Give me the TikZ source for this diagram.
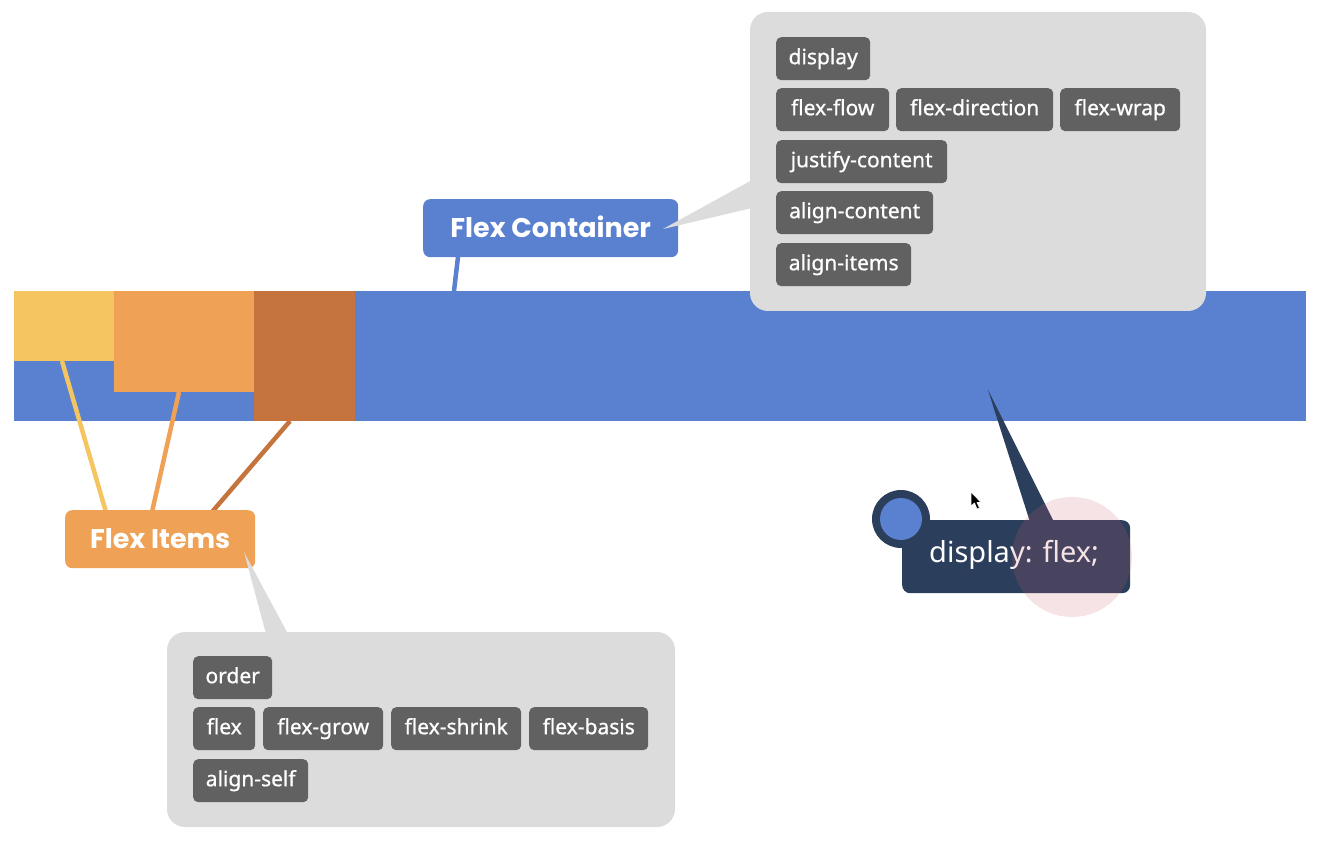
\documentclass[tikz,border=0pt]{standalone}
\usepackage{fontspec}
\setmainfont{Noto Sans}
\newfontfamily\tagfont{Noto Sans}[FakeBold=0.8]
\newfontfamily\headfont{Poppins}
\definecolor{barblue}{RGB}{90,128,208}
\definecolor{itemyellow}{RGB}{244,197,96}
\definecolor{itemorange}{RGB}{239,162,85}
\definecolor{itembrown}{RGB}{196,116,60}
\definecolor{navy}{RGB}{43,62,91}
\definecolor{taggray}{RGB}{97,97,97}
\definecolor{panelgray}{RGB}{220,220,220}
\definecolor{clickpink}{RGB}{205,100,115}
\tikzset{
  block/.style={anchor=north west, inner sep=0pt, outer sep=0pt, minimum height=#1},
  panel/.style={anchor=north west, fill=panelgray, rounded corners=18pt, inner sep=0pt, outer sep=0pt},
  tag/.style={anchor=north west, fill=taggray, rounded corners=5pt, text=white, inner sep=0pt,
    minimum height=43pt, text height=16pt, text depth=5pt,
    font=\tagfont\fontsize{21}{24}\selectfont, minimum width=#1},
  label/.style={anchor=north west, rounded corners=7pt, text=white, inner sep=0pt,
    minimum height=58pt, text height=19pt, text depth=1pt,
    font=\headfont\bfseries\fontsize{27}{30}\selectfont},
  link/.style={line width=4.5pt}
}
\begin{document}
\begin{tikzpicture}[x=1pt,y=-1pt]
\useasboundingbox (0,0) rectangle (1318,842);

% flex container bar and its three items
\node[block=130pt, fill=barblue, minimum width=1292pt] (bar) at (14,291) {};
\node[block=70pt, fill=itemyellow, minimum width=100pt] (item1) at (14,291) {};
\node[block=101pt, fill=itemorange, minimum width=140pt] (item2) at (114,291) {};
\node[block=130pt, fill=itembrown, minimum width=101pt] (item3) at (254,291) {};

% "Flex Container" label and its pointer line
\node[label, fill=barblue, minimum width=255pt] (fc) at (423,199) {Flex Container};
\coordinate (fcfoot) at (458,257);
\coordinate (barhead) at (454,291);
\draw[link, barblue] (fcfoot) -- (barhead);

% container properties panel
\node[panel, minimum width=456pt, minimum height=299pt] (cpanel) at (750,12) {};
\coordinate (ctip) at (663,229);
\coordinate (ctop) at (752,180);
\coordinate (cbot) at (752,208);
\fill[panelgray] (ctip) -- (ctop) -- (cbot) -- cycle;

\node[tag=94pt]  (display) at (776,37)  {display};
\node[tag=113pt] (flexflow) at (776,88) {flex-flow};
\node[tag=157pt] (flexdir) at (896,88)  {flex-direction};
\node[tag=120pt] (flexwrap) at (1060,88) {flex-wrap};
\node[tag=171pt] (justify) at (776,140) {justify-content};
\node[tag=157pt] (aligncontent) at (776,191) {align-content};
\node[tag=135pt] (alignitems) at (776,243) {align-items};

% "Flex Items" label and lines to each item
\coordinate (i1foot) at (62,361);
\coordinate (i2foot) at (179,392);
\coordinate (i3foot) at (290,421);
\coordinate (fi1) at (106,512);
\coordinate (fi2) at (152,512);
\coordinate (fi3) at (212,512);
\draw[link, itemyellow] (i1foot) -- (fi1);
\draw[link, itemorange] (i2foot) -- (fi2);
\draw[link, itembrown] (i3foot) -- (fi3);
\node[label, fill=itemorange, minimum width=190pt] (fi) at (65,510) {Flex Items};

% item properties panel
\node[panel, minimum width=508pt, minimum height=195pt] (ipanel) at (167,632) {};
\coordinate (itip) at (244,552);
\coordinate (ileft) at (266,634);
\coordinate (iright) at (288,634);
\fill[panelgray] (itip) -- (ileft) -- (iright) -- cycle;

\node[tag=79pt]  (order) at (193,656) {order};
\node[tag=62pt]  (flex) at (193,707) {flex};
\node[tag=120pt] (flexgrow) at (263,707) {flex-grow};
\node[tag=130pt] (flexshrink) at (391,707) {flex-shrink};
\node[tag=119pt] (flexbasis) at (529,707) {flex-basis};
\node[tag=115pt] (alignself) at (193,759) {align-self};

% "display: flex;" badge pointing at the bar
\coordinate (dtip) at (988,390);
\coordinate (dleft) at (1030,522);
\coordinate (dright) at (1054,522);
\fill[navy] (dtip) -- (dleft) -- (dright) -- cycle;
\node[anchor=north west, fill=navy, rounded corners=8pt, inner sep=0pt, minimum width=228pt,
  minimum height=73pt] (dflex) at (902,520) {};
\node[circle, fill=navy, minimum size=58pt, inner sep=0pt] (dot) at (901,519) {};
\node[circle, fill=barblue, minimum size=42pt, inner sep=0pt] (dotin) at (dot.center) {};
\node[anchor=west, text=white, font=\fontsize{29}{32}\selectfont, inner sep=0pt] (dtext) at (929,555) {display: flex;};

% click highlight
\node[circle, fill=clickpink, fill opacity=0.18, minimum size=120pt, inner sep=0pt] (click) at (1072,557) {};

% mouse pointer
\draw[fill=black, draw=white, line width=0.6pt, line join=round]
  (971,492) -- (971,506) -- (974.5,503) -- (977,509) -- (979.5,508) -- (977,502.5) -- (981,502.5) -- cycle;
\end{tikzpicture}
\end{document}
